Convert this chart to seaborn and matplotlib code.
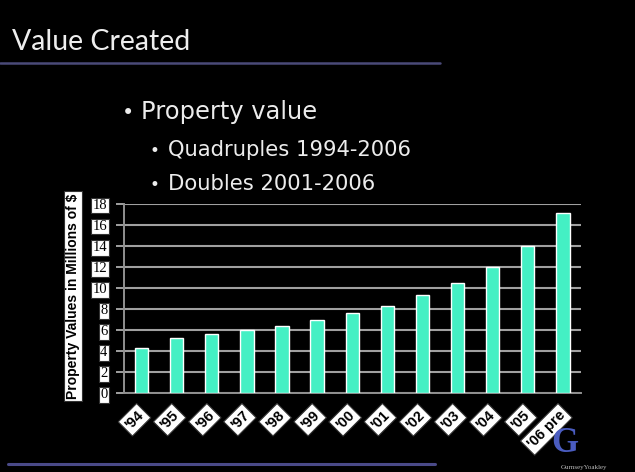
import matplotlib
matplotlib.use("Agg")
import matplotlib.pyplot as plt
from matplotlib.lines import Line2D
import seaborn as sns
import pandas as pd

# Property values per year, millions of dollars
years = ["'94", "'95", "'96", "'97", "'98", "'99", "'00", "'01", "'02", "'03", "'04", "'05", "'06 pre"]
values = [4.3, 5.3, 5.65, 6.05, 6.4, 7.0, 7.6, 8.3, 9.3, 10.5, 12.05, 14.0, 17.1]
y_ticks = [0, 2, 4, 6, 8, 10, 12, 14, 16, 18]

title = "Value Created"
bullet_main = "Property value"
bullet_subs = ["Quadruples 1994-2006", "Doubles 2001-2006"]
y_label = "Property Values in Millions of $"

W, H = 635, 472
sns.set_theme(style="dark")
plt.rcParams["font.family"] = ["DejaVu Sans"]

fig = plt.figure(figsize=(W / 100, H / 100), dpi=100, facecolor="black")


def fx(px):
    return px / W


def fy(py):
    return 1 - py / H


# slide header and rules
fig.text(fx(12), fy(50), title, color="#eeeeee", fontsize=20.5, family=["Lato", "DejaVu Sans"],
         va="baseline", ha="left")
fig.add_artist(Line2D([0, fx(440)], [fy(63), fy(63)], color="#4a4a78", lw=1.8))
fig.add_artist(Line2D([fx(8), fx(435)], [fy(464), fy(464)], color="#4a4a88", lw=2.2))

# bullet text
fig.text(fx(122), fy(119), "\u2022", color="#ececec", fontsize=15, va="baseline")
fig.text(fx(141), fy(119), bullet_main, color="#ececec", fontsize=17.4, va="baseline")
for i, line in enumerate(bullet_subs):
    yb = 156 + i * 34
    fig.text(fx(150), fy(yb), "\u2022", color="#ececec", fontsize=12, va="baseline")
    fig.text(fx(168), fy(yb), line, color="#ececec", fontsize=15.2, va="baseline")

# chart
ax = fig.add_axes([fx(124), fy(393.3), (580.5 - 124) / W, (393.3 - 204) / H])
ax.set_facecolor("black")
df = pd.DataFrame({"year": years, "value": values})
sns.barplot(data=df, x="year", y="value", color="#44F0C4", saturation=1, width=0.38,
            ax=ax, zorder=3)
ax.set_xlim(-0.5, len(years) - 0.5)
ax.set_ylim(0, 18)
ax.set_yticks(y_ticks)
ax.set_yticklabels([str(v) for v in y_ticks])
ax.yaxis.grid(True, color="#a0a0a0", lw=1.5, zorder=0)
ax.xaxis.grid(False)
ax.set_axisbelow(True)

for side in ("top", "right"):
    ax.spines[side].set_visible(False)
for side in ("left", "bottom"):
    ax.spines[side].set_visible(True)
    ax.spines[side].set_color("#909090")
    ax.spines[side].set_linewidth(1.4)

# x ticks marked between categories, labels at bar centres
ax.set_xticks([i + 0.5 for i in range(len(years) - 1)], minor=True)
ax.tick_params(axis="x", which="minor", length=7, direction="inout", color="#a0a0a0", width=1.2)
ax.tick_params(axis="x", which="major", length=0, pad=14)
ax.tick_params(axis="y", which="major", length=6, direction="out", color="#a0a0a0", width=1.4,
               left=True, pad=6)

ax.set_xticks(range(len(years)))
ax.set_xticklabels(years, rotation=45, ha="right", va="center", rotation_mode="anchor",
                   fontsize=10.5, fontweight="bold", color="black",
                   family=["Liberation Sans", "DejaVu Sans"])
for lbl in ax.get_xticklabels():
    lbl.set_bbox(dict(facecolor="white", edgecolor="#333333", pad=2.2, lw=0.8))
for lbl in ax.get_yticklabels():
    lbl.set_fontsize(10.5)
    lbl.set_color("black")
    lbl.set_family(["Liberation Serif", "DejaVu Serif"])
    lbl.set_bbox(dict(facecolor="white", edgecolor="#333333", pad=1.0, lw=0.8))

ax.set_xlabel("")
ax.set_ylabel(y_label, fontsize=10, fontweight="bold", color="black",
              family=["Liberation Sans", "DejaVu Sans"],
              bbox=dict(facecolor="white", edgecolor="#333333", pad=1.4, lw=0.8))
ax.yaxis.set_label_coords((80 - 124) / (580.5 - 124), (393.3 - 296) / (393.3 - 204))

# firm mark in the corner
fig.text(fx(565), fy(452), "G", color="#4a5cc0", fontsize=25, fontweight="bold",
         family=["Liberation Serif", "DejaVu Serif"], ha="center", va="baseline")
fig.text(fx(584), fy(469), "GurnseyYoakley", color="#bdbdbd", fontsize=5,
         family=["Liberation Serif", "DejaVu Serif"], ha="center", va="baseline")

fig.savefig("out.png", dpi=100, facecolor="black")
